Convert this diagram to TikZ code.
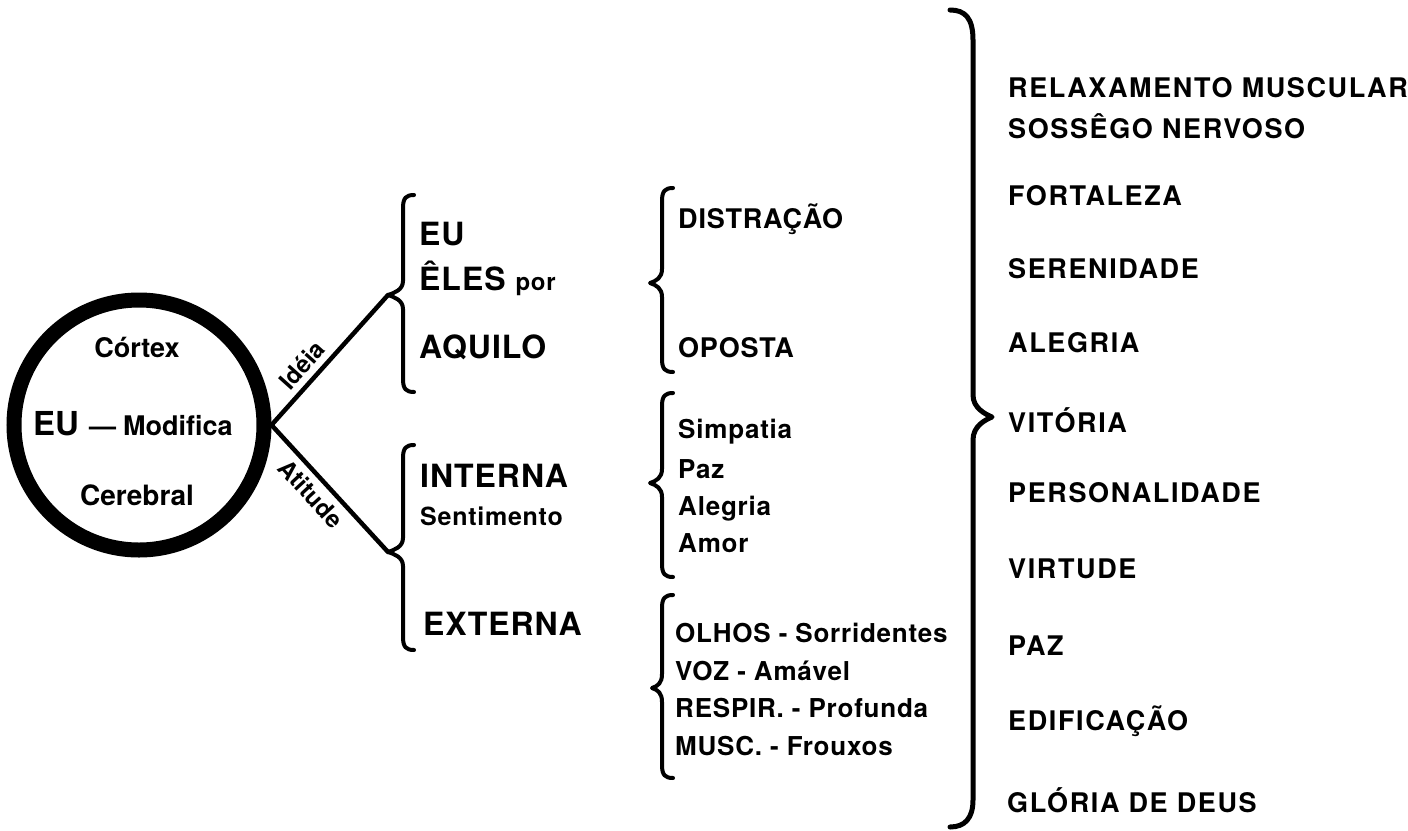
\documentclass[tikz,border=0pt]{standalone}
\usepackage{fontspec}
\setmainfont{TeX Gyre Heros}[LetterSpace=3]
\newcommand\fs[1]{\fontsize{#1}{#1}\selectfont}
\newcommand\BrL[5]{% xv, ytop, ycusp, ybot, xcusp
  \draw[brl] ({#1+11},#2) .. controls ({#1+3},#2) and (#1,{#2+3}) .. (#1,{#2+13})
    -- (#1,{#3-14}) .. controls (#1,{#3-5}) and ({#5+6},{#3-2}) .. (#5,#3)
    .. controls ({#5+6},{#3+2}) and (#1,{#3+5}) .. (#1,{#3+14})
    -- (#1,{#4-13}) .. controls (#1,{#4-3}) and ({#1+3},#4) .. ({#1+11},#4);}
\tikzset{
  txt/.style={inner sep=0pt, anchor=base west, font=\bfseries\fs{27}},
  rtxt/.style={txt, font=\bfseries\fs{27}\addfontfeature{LetterSpace=6}},
  bigtxt/.style={txt, font=\bfseries\fs{32}},
  smtxt/.style={txt, font=\bfseries\fs{26}},
  ctxt/.style={inner sep=0pt, anchor=base, font=\bfseries\fs{27}\addfontfeature{LetterSpace=0}},
  lab/.style={inner sep=6pt, font=\bfseries\fs{24}\addfontfeature{LetterSpace=0}, sloped},
  brl/.style={line width=4pt, line cap=round, line join=round},
  brbig/.style={line width=5pt, line cap=round, line join=round},
  conn/.style={line width=4.5pt, line cap=round},
}
\begin{document}
\begin{tikzpicture}[x=1pt,y=-1pt]
\fill[white] (0,0) rectangle (1408,830);
\useasboundingbox (0,0) rectangle (1408,830);

% brain circle
\node[draw, circle, line width=15pt, minimum size=250pt, inner sep=0pt] (brain) at (139,425) {};
\node[ctxt] (cortex) at (137,357) {Córtex};
\node[txt, font=\bfseries\fs{27}\addfontfeature{LetterSpace=0}] (eumod) at (33,435)
  {{\fs{33}EU}\hspace{10pt}—\hspace{7pt}Modifica};
\node[ctxt, font=\bfseries\fs{28}\addfontfeature{LetterSpace=0}] (cereb) at (137,505) {Cerebral};

% cusp points
\coordinate (c1) at (388,295);
\coordinate (c2) at (388,552);

\draw[conn] (brain.east) -- node[lab, above, pos=0.37] (idea) {Idéia} (c1);
\draw[conn] (brain.east) -- node[lab, below, pos=0.45] (atit) {Atitude} (c2);

% first level braces
\BrL{403}{195}{295}{392}{388}
\BrL{403}{445}{552}{650}{388}

\node[bigtxt] (eu) at (419,245) {EU};
\node[bigtxt] (eles) at (419,290) {ÊLES {\fs{24}por}};
\node[bigtxt] (aquilo) at (419,358) {AQUILO};
\node[bigtxt] (interna) at (420,487) {INTERNA};
\node[txt, font=\bfseries\fs{25}] (sent) at (420,525) {Sentimento};
\node[bigtxt] (externa) at (423,635) {EXTERNA};

% second level braces
\BrL{662}{188}{283}{372}{650}
\BrL{662}{393}{483}{577}{650}
\BrL{662}{595}{688}{778}{652}

\node[txt] (distr) at (678,228) {DISTRAÇÃO};
\node[txt] (oposta) at (678,357) {OPOSTA};

\node[smtxt] (simp) at (678,438) {Simpatia};
\node[smtxt] (paz1) at (678,478) {Paz};
\node[smtxt] (aleg1) at (678,515) {Alegria};
\node[smtxt] (amor) at (678,552) {Amor};

\node[smtxt] (olhos) at (675,642) {OLHOS - Sorridentes};
\node[smtxt] (voz) at (675,680) {VOZ - Amável};
\node[smtxt] (resp) at (675,717) {RESPIR. - Profunda};
\node[smtxt] (musc) at (675,755) {MUSC. - Frouxos};

% big right brace
\draw[brbig] (950,10) .. controls (965,10) and (973,18) .. (973,40)
  -- (973,395) .. controls (973,408) and (985,414) .. (992,417)
  .. controls (985,420) and (973,426) .. (973,440)
  -- (973,800) .. controls (973,818) and (965,827) .. (950,827);

\node[rtxt] (r1) at (1008,97) {RELAXAMENTO MUSCULAR};
\node[rtxt] (r2) at (1008,138) {SOSSÊGO NERVOSO};
\node[rtxt] (r3) at (1008,205) {FORTALEZA};
\node[rtxt] (r4) at (1008,278) {SERENIDADE};
\node[rtxt] (r5) at (1008,352) {ALEGRIA};
\node[rtxt] (r6) at (1008,432) {VITÓRIA};
\node[rtxt] (r7) at (1008,502) {PERSONALIDADE};
\node[rtxt] (r8) at (1008,578) {VIRTUDE};
\node[rtxt] (r9) at (1008,655) {PAZ};
\node[rtxt] (r10) at (1008,730) {EDIFICAÇÃO};
\node[rtxt] (r11) at (1007,812) {GLÓRIA DE DEUS};
\end{tikzpicture}
\end{document}
